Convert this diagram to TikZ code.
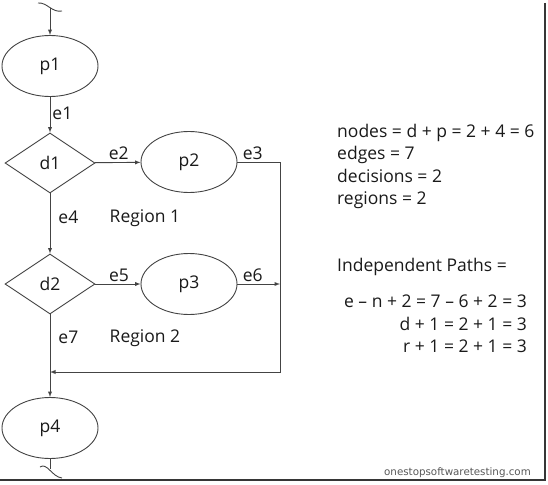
\documentclass[tikz,border=0pt]{standalone}
\usepackage{fontspec}
\setmainfont{Open Sans}
\newfontfamily\wmfont{DejaVu Sans}
\usetikzlibrary{shapes.geometric}
\definecolor{lncol}{HTML}{444444}
\definecolor{txcol}{HTML}{1A1A1A}
\begin{document}
\begin{tikzpicture}[x=1pt, y=-1pt, >=latex, font=\fontsize{17.5}{22.3}\selectfont, text=txcol]
\tikzstyle{myproc} = [ellipse, draw=lncol, line width=0.9pt, minimum width=96pt, minimum height=61pt, inner sep=0pt]
\tikzstyle{mydec} = [diamond, draw=lncol, line width=0.9pt, aspect=1.5, minimum width=90pt, minimum height=60pt, inner sep=0pt]
\tikzset{myedge/.style={->, draw=lncol, line width=0.9pt}, mylbl/.style={inner sep=2pt}}
\useasboundingbox (0,0) rectangle (548,484);
\fill[white] (0,0) rectangle (548,484);
\draw[lncol!80!black, line width=2.2pt] (545,3) -- (545,480) -- (0,480);
\node [ myproc ] (p1) at (50,66) {p1};
\node [ mydec ] (d1) at (50,163) {d1};
\node [ myproc ] (p2) at (189,162) {p2};
\node [ mydec ] (d2) at (50,284) {d2};
\node [ myproc ] (p3) at (189,284) {p3};
\node [ myproc ] (p4) at (50,428) {p4};
\coordinate (in) at (50,8);
\coordinate (out) at (50,469);
\coordinate (c2) at (280,162);
\coordinate (c6) at (280,284);
\coordinate (c4) at (280,372);
\coordinate (join) at (50,372);
\draw [lncol, line width=0.9pt] (38,3) .. controls (47,2) and (52,13) .. (62,11);
\draw [myedge] (in) -- (p1);
\draw [myedge] (p1) -- node [mylbl, right, pos=0.45] {e1} (d1);
\draw [myedge] (d1) -- node [mylbl, above, xshift=1pt] {e2} (p2);
\draw [myedge] (p2.east) -- node [mylbl, above, xshift=-6pt] {e3} (c2) -- (c4) -- (join);
\draw [myedge] (d1) -- node [mylbl, right, pos=0.4, xshift=6pt] {e4} (d2);
\draw [myedge] (d2) -- node [mylbl, above, xshift=1pt] {e5} (p3);
\draw [myedge] (p3) -- node [mylbl, above, xshift=-6pt] {e6} (c6);
\draw [myedge] (d2) -- node [mylbl, right, pos=0.28, xshift=6pt] {e7} (p4);
\draw [lncol, line width=0.9pt] (p4) -- (out);
\draw [lncol, line width=0.9pt] (40,467) .. controls (47,462) and (52,477) .. (62,478);
\node (r1) at (145,218) {Region 1};
\node (r2) at (145,338) {Region 2};
\node [anchor=north west, align=left, inner sep=0pt] (counts) at (337,124) {nodes = d + p = 2 + 4 = 6\\edges = 7\\decisions = 2\\regions = 2};
\node [anchor=west, inner sep=0pt] (paths) at (337,267) {Independent Paths =};
\node [anchor=north east, align=right, inner sep=0pt] (calc) at (527,295) {e -- n + 2 = 7 -- 6 + 2 = 3\\d + 1 = 2 + 1 = 3\\r + 1 = 2 + 1 = 3};
\node [anchor=base east, inner sep=0pt, text=black!65, font=\wmfont\fontsize{10.3}{12}\selectfont] (wm) at (531,475) {onestopsoftwaretesting.com};
\end{tikzpicture}
\end{document}
